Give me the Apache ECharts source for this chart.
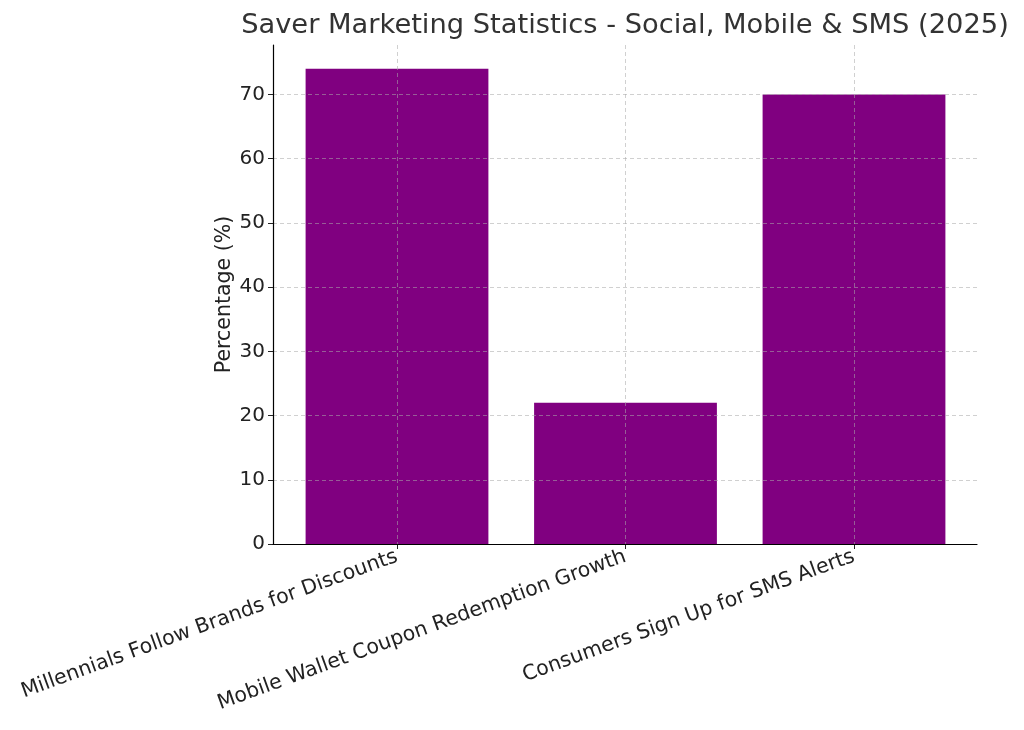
<!DOCTYPE html>
<html>
<head>
<meta charset="utf-8">
<script src="https://cdn.jsdelivr.net/npm/echarts@6/dist/echarts.min.js"></script>
<style>html,body{margin:0;padding:0;background:#fff}#c{width:1024px;height:730px}</style>
</head>
<body>
<div id="c"></div>
<script>
const categories = ["Millennials Follow Brands for Discounts", "Mobile Wallet Coupon Redemption Growth", "Consumers Sign Up for SMS Alerts"];
const percentages = [74, 22, 70];
const yTicks = [0, 10, 20, 30, 40, 50, 60, 70];
const titleText = "Saver Marketing Statistics - Social, Mobile & SMS (2025)";
const yName = "Percentage (%)";

const FONT = "DejaVu Sans";
const yMax = 77.7;
const chart = echarts.init(document.getElementById('c'), null, {renderer: 'canvas'});
const gridLine = {show: true, lineStyle: {color: 'rgba(170,170,170,0.55)', type: [4, 3], width: 1}};
chart.setOption({
  backgroundColor: '#fff',
  animation: false,
  title: {text: titleText, left: 620, top: 7, textAlign: 'center',
    textStyle: {fontFamily: FONT, fontSize: 27.3, fontWeight: 'normal', color: '#333'}},
  grid: [
    {left: 273, right: 47, top: 45, bottom: 186},
    {left: 282.75, width: 685.5, top: 45, bottom: 186},
    {left: 397, width: 457, top: 45, bottom: 186}
  ],
  xAxis: [
    {type: 'category', gridIndex: 0, data: categories, z: 8, axisLabel: {show: false}, axisTick: {show: false},
      axisLine: {show: true, lineStyle: {color: '#000', width: 1.2}}, splitLine: {show: false}},
    {type: 'category', gridIndex: 1, data: categories, show: false},
    {type: 'category', gridIndex: 2, data: categories, boundaryGap: false, z: 5,
      axisLine: {show: false},
      axisTick: {show: true, length: 5, inside: false, lineStyle: {color: '#222'}},
      axisLabel: {rotate: 20, margin: 12, fontFamily: FONT, fontSize: 20.5, color: '#222'},
      splitLine: gridLine}
  ],
  yAxis: [
    {type: 'value', gridIndex: 0, min: 0, max: yMax, interval: 10, z: 5,
      axisLine: {show: true, lineStyle: {color: '#000', width: 1.2}},
      axisTick: {show: true, length: 5, customValues: yTicks, lineStyle: {color: '#222'}},
      axisLabel: {fontFamily: FONT, fontSize: 20, color: '#222', margin: 8, customValues: yTicks},
      splitLine: gridLine,
      name: yName, nameLocation: 'middle', nameGap: 38, nameRotate: 90, nameMoveOverlap: false,
      nameTextStyle: {fontFamily: FONT, fontSize: 20.5, color: '#222'}},
    {type: 'value', gridIndex: 1, min: 0, max: yMax, interval: 10, show: false, splitLine: {show: false}},
    {type: 'value', gridIndex: 2, min: 0, max: yMax, interval: 10, show: false, splitLine: {show: false}}
  ],
  series: [{
    type: 'bar', xAxisIndex: 1, yAxisIndex: 1, data: percentages, barWidth: '80%', z: 2,
    itemStyle: {color: '#800080'}
  }]
});
</script>
</body>
</html>
